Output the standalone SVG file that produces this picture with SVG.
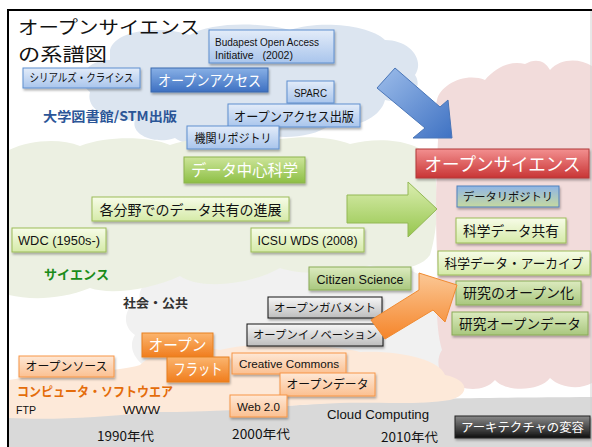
<svg xmlns="http://www.w3.org/2000/svg" width="592" height="447" viewBox="0 0 592 447">
<defs>
<style>
text{font-family:'Noto Sans CJK JP','Noto Sans',sans-serif;fill:#111;}
.lat{font-family:'Liberation Sans','Noto Sans','Noto Sans CJK JP',sans-serif;}
.c{text-anchor:middle;}
.w{fill:#fff;}
.bx{filter:url(#sh);stroke-width:1;}
.bl{fill:url(#gBl);stroke:#5f8fcf;}
.bs{fill:url(#gBs);stroke:#3b68ad;}
.gl{fill:url(#gGl);stroke:#9bbb59;}
.gs{fill:url(#gGs);stroke:#8db44f;}
.gm{fill:url(#gGm);stroke:#8aab58;}
.gy{fill:url(#gGy);stroke:#111;}
.ol{fill:url(#gOl);stroke:#f79646;}
.os{fill:url(#gOs);stroke:#e8801f;}
.rd{fill:url(#gRd);stroke:#b03a3a;}
.dr{fill:url(#gDr);stroke:#4f81bd;}
.bk{fill:url(#gBk);stroke:#222;}
</style>
<filter id="sh" x="-10%" y="-20%" width="130%" height="160%">
<feDropShadow dx="1" dy="2" stdDeviation="1" flood-color="#000" flood-opacity="0.3"/>
</filter>
<linearGradient id="gBl" x1="0" y1="0" x2="0" y2="1"><stop offset="0" stop-color="#e3ecf9"/><stop offset="1" stop-color="#a9c5ec"/></linearGradient>
<linearGradient id="gBs" x1="0" y1="0" x2="0" y2="1"><stop offset="0" stop-color="#88b0e6"/><stop offset="1" stop-color="#3d70c2"/></linearGradient>
<linearGradient id="gGl" x1="0" y1="0" x2="0" y2="1"><stop offset="0" stop-color="#f7fce8"/><stop offset="1" stop-color="#d5eaa8"/></linearGradient>
<linearGradient id="gGs" x1="0" y1="0" x2="0" y2="1"><stop offset="0" stop-color="#cde59a"/><stop offset="1" stop-color="#8dbf45"/></linearGradient>
<linearGradient id="gGm" x1="0" y1="0" x2="0" y2="1"><stop offset="0" stop-color="#dcebbf"/><stop offset="1" stop-color="#a9c77e"/></linearGradient>
<linearGradient id="gGy" x1="0" y1="0" x2="0" y2="1"><stop offset="0" stop-color="#f7f7f7"/><stop offset="1" stop-color="#bdbdbd"/></linearGradient>
<linearGradient id="gOl" x1="0" y1="0" x2="0" y2="1"><stop offset="0" stop-color="#fee8d6"/><stop offset="1" stop-color="#fbc091"/></linearGradient>
<linearGradient id="gOs" x1="0" y1="0" x2="0" y2="1"><stop offset="0" stop-color="#fbb56f"/><stop offset="1" stop-color="#f07d1d"/></linearGradient>
<linearGradient id="gRd" x1="0" y1="0" x2="0" y2="1"><stop offset="0" stop-color="#f39090"/><stop offset="1" stop-color="#c83434"/></linearGradient>
<linearGradient id="gDr" x1="0" y1="0" x2="0" y2="1"><stop offset="0" stop-color="#8fb5e6"/><stop offset="1" stop-color="#c6d9a0"/></linearGradient>
<linearGradient id="gBk" x1="0" y1="0" x2="0" y2="1"><stop offset="0" stop-color="#8a8a8a"/><stop offset="1" stop-color="#111"/></linearGradient>
<linearGradient id="aBl" x1="0" y1="0" x2="1" y2="1"><stop offset="0" stop-color="#9dbdea"/><stop offset="1" stop-color="#3f72c3"/></linearGradient>
<linearGradient id="aGr" x1="0" y1="0" x2="0" y2="1"><stop offset="0" stop-color="#dbeeb0"/><stop offset="1" stop-color="#96c64e"/></linearGradient>
<linearGradient id="aOr" x1="0" y1="0" x2="0" y2="1"><stop offset="0" stop-color="#fbc896"/><stop offset="1" stop-color="#f5852a"/></linearGradient>
<clipPath id="frame"><rect x="9" y="11" width="583" height="436"/></clipPath>
</defs>

<rect x="0" y="0" width="592" height="447" fill="#fff"/>

<g id="background" clip-path="url(#frame)">
<path fill="#d9d9d9" d="M 9,418 C 60,412 120,410 160,410 L 300,405 C 360,400 420,398 592,397 L 592,447 L 9,447 Z"/>
<path fill="#dce5f0" d="M 110,50 C 115,30 160,25 190,35 C 210,22 260,22 290,30 C 320,20 370,25 385,40 C 410,40 425,60 415,75 C 425,90 405,105 385,100 C 380,120 350,130 330,125 C 310,140 270,140 250,130 C 240,148 190,150 175,138 C 155,145 130,135 135,120 C 110,122 85,110 90,92 C 75,80 85,60 110,60 Z"/>
<path fill="#f1f1f1" d="M 140,300 C 135,280 170,266 190,276 C 220,262 280,262 300,270 C 340,262 400,262 420,275 C 450,280 460,300 450,320 C 470,340 460,370 440,378 C 400,390 340,385 300,380 C 260,388 200,385 170,375 C 140,372 125,350 135,335 C 120,325 125,305 140,300 Z"/>
<path fill="#ecf0e2" d="M 9,150 C 30,140 60,138 80,146 C 110,135 150,137 170,145 C 200,135 240,136 260,144 C 290,134 330,136 350,144 C 380,136 420,140 432,160 C 440,190 438,230 430,255 C 420,270 390,272 370,265 C 340,275 300,275 280,268 C 250,285 200,290 180,276 C 150,290 110,295 90,288 C 60,300 30,300 9,295 Z"/>
<path fill="#f2dcdb" d="M 437,100 C 440,85 465,72 485,80 C 495,68 510,60 525,64 C 535,58 545,60 550,70 C 560,58 580,58 592,66 L 592,383 C 580,390 560,388 550,378 C 540,392 505,392 495,380 C 485,392 460,392 452,380 C 438,378 435,360 442,350 C 436,330 436,300 438,270 C 435,230 436,180 438,140 C 434,125 434,110 437,100 Z"/>
<path fill="#fde9d9" d="M 9,380 C 60,372 120,372 140,365 C 160,345 200,345 220,350 C 260,340 330,345 360,352 C 400,350 440,360 445,375 C 470,380 470,395 450,400 C 420,405 380,402 340,403 L 300,405 C 250,410 200,412 150,412 C 100,418 50,420 9,418 Z"/>
</g>

<g id="frame-border">
<path d="M 8,447 V 10 H 592" fill="none" stroke="#000" stroke-width="2"/>
<line x1="591" y1="11" x2="591" y2="447" stroke="#d0d0d0" stroke-width="1"/>
</g>

<g id="labels">
<text x="18" y="34" font-size="18" textLength="182" lengthAdjust="spacingAndGlyphs">オープンサイエンス</text>
<text x="18" y="61" font-size="18.5" textLength="89" lengthAdjust="spacingAndGlyphs">の系譜図</text>
<text x="43" y="121" font-size="13" font-weight="bold" style="fill:#2b5597" textLength="134" lengthAdjust="spacingAndGlyphs">大学図書館/STM出版</text>
<text x="44" y="279" font-size="13" font-weight="bold" style="fill:#1a8c1a" textLength="65" lengthAdjust="spacingAndGlyphs">サイエンス</text>
<text x="123" y="308" font-size="12.5" font-weight="bold" style="fill:#333" textLength="65" lengthAdjust="spacingAndGlyphs">社会・公共</text>
<text x="17" y="396" font-size="13" font-weight="bold" style="fill:#e46c0a" textLength="156" lengthAdjust="spacingAndGlyphs">コンピュータ・ソフトウエア</text>
<text class="lat" x="16" y="414" font-size="11.5" textLength="20" lengthAdjust="spacingAndGlyphs">FTP</text>
<text class="lat" x="123" y="414" font-size="11.5" textLength="37" lengthAdjust="spacingAndGlyphs">WWW</text>
<text x="97" y="441" font-size="12.5" textLength="57" lengthAdjust="spacingAndGlyphs">1990年代</text>
<text x="232" y="439" font-size="12.5" textLength="58" lengthAdjust="spacingAndGlyphs">2000年代</text>
<text class="lat" x="327" y="419" font-size="12" textLength="102" lengthAdjust="spacingAndGlyphs">Cloud Computing</text>
<text x="381" y="442" font-size="12.5" textLength="57" lengthAdjust="spacingAndGlyphs">2010年代</text>
</g>

<g id="n-budapest"><rect class="bx bl" x="209" y="30" width="125" height="33"/>
<text class="lat" x="215" y="46" font-size="10" textLength="104" lengthAdjust="spacingAndGlyphs">Budapest Open Access</text>
<text class="lat" x="215" y="59" font-size="10" textLength="78" lengthAdjust="spacingAndGlyphs">Initiative&#160;&#160;&#160;(2002)</text></g>
<g id="n-serials"><rect class="bx bl" x="23" y="68" width="117" height="20"/><text class="c" x="81.5" y="82" font-size="11.5" textLength="104" lengthAdjust="spacingAndGlyphs">シリアルズ・クライシス</text></g>
<g id="n-oa"><rect class="bx bs" x="151" y="68" width="117" height="24"/><text class="c w" x="209.5" y="86" font-size="14.5" textLength="103" lengthAdjust="spacingAndGlyphs">オープンアクセス</text></g>
<g id="n-sparc"><rect class="bx bl" x="287" y="81" width="47" height="22"/><text class="c lat" x="310.5" y="97" font-size="11" textLength="33" lengthAdjust="spacingAndGlyphs">SPARC</text></g>
<g id="n-oapub"><rect class="bx bl" x="228" y="104" width="132" height="23"/><text class="c" x="294" y="121" font-size="13" textLength="120" lengthAdjust="spacingAndGlyphs">オープンアクセス出版</text></g>
<g id="n-ir"><rect class="bx bl" x="187" y="126" width="92" height="23"/><text class="c" x="233" y="143" font-size="12" textLength="77" lengthAdjust="spacingAndGlyphs">機関リポジトリ</text></g>

<g id="n-dcs"><rect class="bx gs" x="184" y="157" width="121" height="26"/><text class="c w" x="244.5" y="176" font-size="16" textLength="107" lengthAdjust="spacingAndGlyphs">データ中心科学</text></g>
<g id="n-share"><rect class="bx gl" x="92" y="197" width="197" height="24"/><text class="c" x="190.5" y="215" font-size="14" textLength="182" lengthAdjust="spacingAndGlyphs">各分野でのデータ共有の進展</text></g>
<g id="n-wdc"><rect class="bx gl" x="12" y="228" width="94" height="24"/><text class="c lat" x="59" y="245" font-size="12.5" textLength="82" lengthAdjust="spacingAndGlyphs">WDC (1950s-)</text></g>
<g id="n-icsu"><rect class="bx gl" x="251" y="228" width="113" height="24"/><text class="c lat" x="307.5" y="245" font-size="12.5" textLength="100" lengthAdjust="spacingAndGlyphs">ICSU WDS (2008)</text></g>
<g id="n-citizen"><rect class="bx gm" x="309" y="267" width="102" height="23"/><text class="c lat" x="360" y="284" font-size="12.5" textLength="87" lengthAdjust="spacingAndGlyphs">Citizen Science</text></g>

<g id="n-ogov"><rect class="bx gy" x="268" y="297" width="114" height="21"/><text class="c" x="325" y="312" font-size="11.5" textLength="102" lengthAdjust="spacingAndGlyphs">オープンガバメント</text></g>
<g id="n-oinno"><rect class="bx gy" x="247" y="324" width="136" height="22"/><text class="c" x="315" y="339" font-size="11.5" textLength="124" lengthAdjust="spacingAndGlyphs">オープンイノベーション</text></g>

<g id="n-oss"><rect class="bx ol" x="19" y="356" width="95" height="21"/><text class="c" x="66.5" y="371" font-size="12" textLength="82" lengthAdjust="spacingAndGlyphs">オープンソース</text></g>
<g id="n-cc"><rect class="bx ol" x="232" y="353" width="114" height="21"/><text class="c lat" x="289" y="368" font-size="11.5" textLength="100" lengthAdjust="spacingAndGlyphs">Creative Commons</text></g>
<g id="n-odata"><rect class="bx ol" x="280" y="373" width="95" height="23"/><text class="c" x="327.5" y="389" font-size="12.5" textLength="82" lengthAdjust="spacingAndGlyphs">オープンデータ</text></g>
<g id="n-web2"><rect class="bx ol" x="230" y="395" width="57" height="22"/><text class="c lat" x="258.5" y="411" font-size="11.5" textLength="43" lengthAdjust="spacingAndGlyphs">Web 2.0</text></g>
<g id="n-open"><rect class="bx os" x="142" y="333" width="71" height="24"/><text class="c w" x="177.5" y="351" font-size="15.5" textLength="58" lengthAdjust="spacingAndGlyphs">オープン</text></g>
<g id="n-flat"><rect class="bx os" x="167" y="357" width="62" height="25"/><text class="c w" x="198" y="375" font-size="15.5" textLength="49" lengthAdjust="spacingAndGlyphs">フラット</text></g>
<g id="n-arch"><rect class="bx bk" x="455" y="416" width="135" height="22"/><text class="c w" x="522.5" y="432" font-size="12.5" textLength="123" lengthAdjust="spacingAndGlyphs">アーキテクチャの変容</text></g>

<g id="n-os"><rect class="bx rd" x="416" y="149" width="173" height="29"/><text class="c w" x="502.5" y="171" font-size="18" textLength="156" lengthAdjust="spacingAndGlyphs">オープンサイエンス</text></g>
<g id="n-drep"><rect class="bx dr" x="457" y="186" width="102" height="21"/><text class="c" x="508" y="201" font-size="11.5" textLength="90" lengthAdjust="spacingAndGlyphs">データリポジトリ</text></g>
<g id="n-sds"><rect class="bx gl" x="456" y="218" width="110" height="25"/><text class="c" x="511" y="236" font-size="13.5" textLength="96" lengthAdjust="spacingAndGlyphs">科学データ共有</text></g>
<g id="n-sda"><rect class="bx gl" x="438" y="251" width="152" height="24"/><text class="c" x="514" y="268" font-size="13" textLength="139" lengthAdjust="spacingAndGlyphs">科学データ・アーカイブ</text></g>
<g id="n-ropen"><rect class="bx gm" x="456" y="281" width="125" height="24"/><text class="c" x="518.5" y="298" font-size="13.5" textLength="111" lengthAdjust="spacingAndGlyphs">研究のオープン化</text></g>
<g id="n-rod"><rect class="bx gm" x="452" y="312" width="136" height="23"/><text class="c" x="520" y="329" font-size="13.5" textLength="122" lengthAdjust="spacingAndGlyphs">研究オープンデータ</text></g>

<g id="connectors">
<path d="M 395,68 L 440,107 L 448,100 L 452,138 L 413,138 L 425,128 L 377,88 Z" fill="url(#aBl)" stroke="#4a76b8" stroke-width="1"/>
<path d="M 347,195 L 408,195 L 408,182 L 437,209 L 408,237 L 408,223 L 347,223 Z" fill="url(#aGr)" stroke="#93b855" stroke-width="1"/>
<path d="M 371,320 L 419,290 L 419,273 L 457,285 L 445,322 L 433,310 L 385,339 Z" fill="url(#aOr)" stroke="#f08a30" stroke-width="1"/>
</g>
</svg>
